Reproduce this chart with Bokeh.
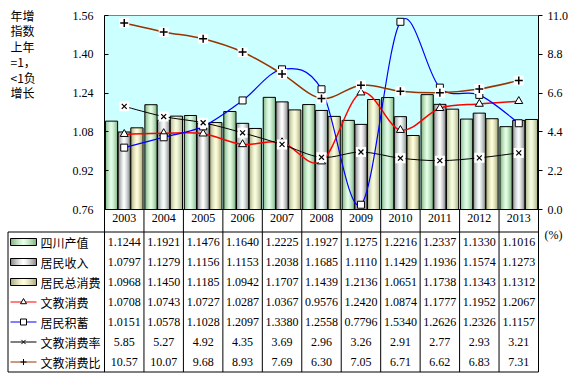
from bokeh.plotting import figure
from bokeh.models import Range1d, LinearAxis, FixedTicker, NumeralTickFormatter
from bokeh.core.properties import value
from bokeh.embed import file_html
from bokeh.resources import INLINE

# ---------------- data ----------------
years = ["2003", "2004", "2005", "2006", "2007", "2008", "2009", "2010", "2011", "2012", "2013"]
gdp = [1.1244, 1.1921, 1.1476, 1.1640, 1.2225, 1.1927, 1.1275, 1.2216, 1.2337, 1.1330, 1.1016]
income = [1.0797, 1.1279, 1.1156, 1.1153, 1.2038, 1.1685, 1.1110, 1.1429, 1.1936, 1.1574, 1.1273]
consumption = [1.0968, 1.1450, 1.1185, 1.0942, 1.1707, 1.1439, 1.2136, 1.0651, 1.1738, 1.1343, 1.1312]
edu_cons = [1.0708, 1.0743, 1.0727, 1.0287, 1.0367, 0.9576, 1.2420, 1.0874, 1.1777, 1.1952, 1.2067]
savings = [1.0151, 1.0578, 1.1028, 1.2097, 1.3380, 1.2558, 0.7796, 1.5340, 1.2626, 1.2326, 1.1157]
edu_rate = [5.85, 5.27, 4.92, 4.35, 3.69, 2.96, 3.26, 2.91, 2.77, 2.93, 3.21]
edu_ratio = [10.57, 10.07, 9.68, 8.93, 7.69, 6.30, 7.05, 6.71, 6.62, 6.83, 7.31]
bar_names = ["四川产值", "居民收入", "居民总消费"]
line_names = ["文教消费", "居民积蓄", "文教消费率", "文教消费比"]
left_ticks = [0.76, 0.92, 1.08, 1.24, 1.40, 1.56]
right_ticks = [0.0, 2.2, 4.4, 6.6, 8.8, 11.0]
ytitle_lines = ["年增", "指数", "上年", "=1，", "<1负", "增长"]
unit_label = "(%)"

# ---------------- layout constants ----------------
W, H = 576, 376
PL, PR, PT, PB = 104, 538, 15, 209
TBL_L, TBL_T, ROW_H = 7.5, 231.5, 20
n = len(years)
unit = (PR - PL) / n
lo, hi = left_ticks[0], left_ticks[-1]
ppu = (PB - PT) / (hi - lo)
rlo, rhi = right_ticks[0], right_ticks[-1]
rppu = (PB - PT) / (rhi - rlo)

xr = Range1d(-0.5 - PL / unit, -0.5 + (W - PL) / unit)
yr = Range1d(lo - (H - PB) / ppu, hi + PT / ppu)

p = figure(width=W, height=H, x_range=xr, y_range=yr, output_backend="svg",
           toolbar_location=None, min_border=0, x_axis_location=None,
           y_axis_location=None, outline_line_color=None,
           background_fill_color="white", border_fill_color="white")
p.extra_y_ranges = {"right": Range1d(rlo - (H - PB) / rppu, rhi + PT / rppu),
                    "tbl": Range1d(H, 0)}
p.extra_x_ranges = {"px": Range1d(0, W)}
p.grid.visible = False

SERIF = value("Liberation Serif")
CJK = value("Noto Sans CJK SC")
FS = value("12px")

# plot area background
p.quad(left=[-0.5], right=[n - 0.5], bottom=[lo], top=[hi], fill_color="#CCFFFF", line_color=None)
p.segment(x0=[-0.5], x1=[n - 0.5], y0=[hi], y1=[hi], line_color="#808080", line_width=1)


def hx(c):
    return tuple(int(c[i:i + 2], 16) for i in (1, 3, 5))


def mix(c1, c2, t):
    a, b = hx(c1), hx(c2)
    return "#%02x%02x%02x" % tuple(int(round(a[k] + (b[k] - a[k]) * t)) for k in range(3))


bar_grad = [("#79AD79", "#E6FFE6"), ("#7F7F7F", "#FFFFFF"), ("#A5A57A", "#FFFFDC")]
bar_series = [gdp, income, consumption]
offsets = [-0.322, 0.0, 0.322]
bw = 0.31
NS = 12

for s, vals in enumerate(bar_series):
    edge, center = bar_grad[s]
    xs, tops, cols = [], [], []
    for i, v in enumerate(vals):
        xc = i + offsets[s]
        for j in range(NS):
            t = abs((j + 0.5) - NS / 2) / (NS / 2)
            xs.append(xc - bw / 2 + (j + 0.5) * bw / NS)
            tops.append(v)
            cols.append(mix(center, edge, t ** 1.3))
    p.vbar(x=xs, width=bw / NS * 1.25, top=tops, bottom=lo, fill_color=cols, line_color=None)
    p.vbar(x=[i + offsets[s] for i in range(n)], width=bw, top=vals, bottom=lo,
           fill_color=None, line_color="black", line_width=1)


def smooth(ys):
    xs = list(range(len(ys)))
    m = len(ys)
    d = dict(x0=[], y0=[], x1=[], y1=[], cx0=[], cy0=[], cx1=[], cy1=[])
    for i in range(m - 1):
        a = i - 1 if i > 0 else i
        b = i + 2 if i + 2 < m else i + 1
        d["x0"].append(xs[i]); d["y0"].append(ys[i])
        d["x1"].append(xs[i + 1]); d["y1"].append(ys[i + 1])
        d["cx0"].append(xs[i] + (xs[i + 1] - xs[a]) / 6)
        d["cy0"].append(ys[i] + (ys[i + 1] - ys[a]) / 6)
        d["cx1"].append(xs[i + 1] - (xs[b] - xs[i]) / 6)
        d["cy1"].append(ys[i + 1] - (ys[b] - ys[i]) / 6)
    return d


idx = list(range(n))
# 文教消费 (red, triangle)
p.bezier(**smooth(edu_cons), line_color="#FF0000", line_width=1.5)
p.scatter(idx, edu_cons, marker="triangle", size=8, fill_color="white", line_color="black")
# 居民积蓄 (blue, square)
p.bezier(**smooth(savings), line_color="#0000FF", line_width=1.2)
p.scatter(idx, savings, marker="square", size=7, fill_color="white", line_color="black")
# 文教消费率 (black, x) right axis
p.bezier(**smooth(edu_rate), line_color="black", line_width=1, y_range_name="right")
p.scatter(idx, edu_rate, marker="square", size=10, fill_color="white", line_color=None, y_range_name="right")
p.scatter(idx, edu_rate, marker="x", size=7, line_color="black", line_width=1.2, y_range_name="right")
# 文教消费比 (brown, +) right axis
p.bezier(**smooth(edu_ratio), line_color="#993300", line_width=1.5, y_range_name="right")
p.scatter(idx, edu_ratio, marker="square", size=10, fill_color="white", line_color=None, y_range_name="right")
p.scatter(idx, edu_ratio, marker="cross", size=8, line_color="black", line_width=1.5, y_range_name="right")

# ---------------- axes ----------------
yax = LinearAxis(fixed_location=-0.5, bounds=(lo, hi), ticker=FixedTicker(ticks=left_ticks),
                 formatter=NumeralTickFormatter(format="0.00"))
yax.major_tick_in = 4
yax.major_tick_out = 0
yax.minor_tick_in = 0
yax.minor_tick_out = 0
yax.major_label_standoff = 11
p.add_layout(yax, "left")

rax = LinearAxis(y_range_name="right", fixed_location=n - 0.5, bounds=(rlo, rhi),
                 ticker=FixedTicker(ticks=right_ticks), formatter=NumeralTickFormatter(format="0.0"))
rax.major_tick_in = 0
rax.major_tick_out = 4
rax.minor_tick_in = 0
rax.minor_tick_out = 0
rax.major_label_standoff = 5
p.add_layout(rax, "right")

xax = LinearAxis(fixed_location=lo, bounds=(-0.5, n - 0.5), ticker=FixedTicker(ticks=idx),
                 major_label_overrides={i: yv for i, yv in enumerate(years)})
xax.major_tick_in = 0
xax.major_tick_out = 0
xax.minor_tick_in = 0
xax.minor_tick_out = 0
xax.major_label_standoff = 4
p.add_layout(xax, "below")

for ax in (yax, rax, xax):
    ax.axis_line_color = "black"
    ax.axis_line_width = 1
    ax.major_tick_line_color = "black"
    ax.major_label_text_font = "Liberation Serif"
    ax.major_label_text_font_size = "12px"
    ax.major_label_text_color = "black"

# ---------------- data table ----------------
nrows = 7
tbl_bottom = TBL_T + nrows * ROW_H
bounds_x = [k - 0.5 for k in range(n + 1)]
p.segment(x0=bounds_x, x1=bounds_x, y0=[PB] * len(bounds_x), y1=[tbl_bottom] * len(bounds_x),
          line_color="black", line_width=1, y_range_name="tbl")
p.segment(x0=[TBL_L, TBL_L, TBL_L], x1=[TBL_L, PR, PR], y0=[TBL_T, TBL_T, tbl_bottom],
          y1=[tbl_bottom, TBL_T, tbl_bottom], line_color="black", line_width=1,
          x_range_name="px", y_range_name="tbl")

row_c = [TBL_T + ROW_H * (r + 0.5) for r in range(nrows)]
row_names = bar_names + line_names
p.text(x=[40] * nrows, y=row_c, text=row_names, text_font=CJK, text_font_size=FS,
       text_color="black", text_align="left", text_baseline="middle",
       x_range_name="px", y_range_name="tbl")

table_series = [gdp, income, consumption, edu_cons, savings, edu_rate, edu_ratio]
fmts = ["%.4f"] * 5 + ["%.2f"] * 2
tx, ty, tt = [], [], []
for r, (vals, f) in enumerate(zip(table_series, fmts)):
    for i, v in enumerate(vals):
        tx.append(i)
        ty.append(row_c[r])
        tt.append(f % v)
p.text(x=tx, y=ty, text=tt, text_font=SERIF, text_font_size=FS, text_color="black",
       text_align="center", text_baseline="middle", y_range_name="tbl")

# legend swatches (gradient)
SW_L, SW_R, SW_H = 10, 36, 7
for s in range(3):
    edge, center = bar_grad[s]
    NSW = 13
    lefts, rights, cols = [], [], []
    for j in range(NSW):
        t = abs((j + 0.5) - NSW / 2) / (NSW / 2)
        lefts.append(SW_L + j * (SW_R - SW_L) / NSW)
        rights.append(SW_L + (j + 1.2) * (SW_R - SW_L) / NSW)
        cols.append(mix(center, edge, t ** 1.3))
    rights[-1] = SW_R
    yc = row_c[s]
    p.quad(left=lefts, right=rights, bottom=[yc + SW_H / 2] * NSW, top=[yc - SW_H / 2] * NSW,
           fill_color=cols, line_color=None, x_range_name="px", y_range_name="tbl")
    p.quad(left=[SW_L], right=[SW_R], bottom=[yc + SW_H / 2], top=[yc - SW_H / 2],
           fill_color=None, line_color="black", line_width=1, x_range_name="px", y_range_name="tbl")

leg_colors = ["#FF0000", "#0000FF", "black", "#993300"]
leg_markers = ["triangle", "square", "x", "cross"]
for k in range(4):
    yc = row_c[3 + k]
    p.segment(x0=[SW_L], x1=[SW_R], y0=[yc], y1=[yc], line_color=leg_colors[k], line_width=1.2,
              x_range_name="px", y_range_name="tbl")
    p.scatter(x=[(SW_L + SW_R) / 2], y=[yc], marker=leg_markers[k], size=6,
              fill_color="white", line_color="black", x_range_name="px", y_range_name="tbl")

# y-axis title (multi-line) and unit label
p.text(x=[10] * len(ytitle_lines), y=[15 + 15.4 * k for k in range(len(ytitle_lines))],
       text=ytitle_lines, text_font=CJK, text_font_size=FS, text_color="black",
       text_align="left", text_baseline="middle", x_range_name="px", y_range_name="tbl")
p.text(x=[544], y=[234], text=[unit_label], text_font=SERIF, text_font_size=FS,
       text_color="black", text_align="left", text_baseline="middle",
       x_range_name="px", y_range_name="tbl")

open("out.html", "w").write(file_html(p, INLINE))
